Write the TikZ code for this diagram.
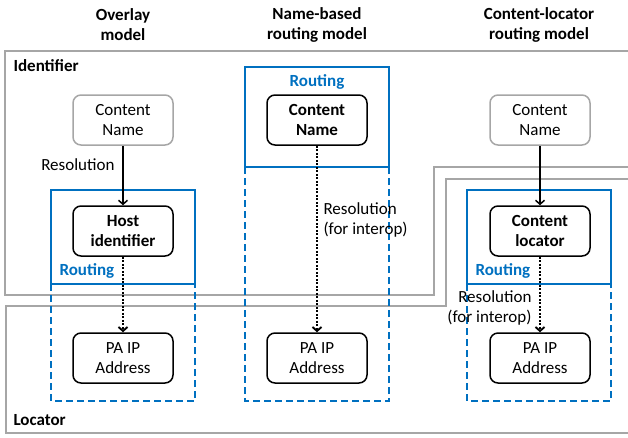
\documentclass[tikz,border=0pt]{standalone}
\usepackage{fontspec}
\setmainfont{Carlito}
\usetikzlibrary{arrows.meta}
\definecolor{msblue}{HTML}{0070C0}
\definecolor{regiongray}{HTML}{A6A6A6}
\begin{document}
\begin{tikzpicture}[x=1pt,y=-1pt,
  every node/.style={font=\fontsize{17}{20}\selectfont},
  tag/.style={font=\fontsize{17}{20}\selectfont\bfseries},
  box/.style={draw, rounded corners=8pt, line width=1.5pt, minimum width=100pt, minimum height=50pt, align=center, inner sep=0pt},
  boldbox/.style={box, font=\fontsize{17}{20}\selectfont\bfseries},
  namebox/.style={box, draw=regiongray},
  region/.style={draw=regiongray, line width=1.8pt},
  routebox/.style={draw=msblue, line width=1.6pt},
  dashbox/.style={draw=msblue, line width=1.6pt, dash pattern=on 7pt off 4pt},
  res/.style={line width=1.5pt, -{Straight Barb[length=4pt,width=9pt]}},
  dotres/.style={res, line width=1.9pt, dash pattern=on 1.9pt off 1.6pt}]
\useasboundingbox (0,0) rectangle (628,437);
% layers
\draw[region] (628,51) -- (5,51) -- (5,295) -- (434,295) -- (434,167) -- (628,167);
\draw[region] (628,179) -- (446,179) -- (446,306) -- (6,306) -- (6,433) -- (628,433);
\node[tag, anchor=west] (idlabel) at (10,66) {Identifier};
\node[tag, anchor=west] (loclabel) at (10,420) {Locator};
% column titles
\node[tag, align=center] (title1) at (123,25) {Overlay\\model};
\node[tag, align=center] (title2) at (317,25) {Name-based\\routing model};
\node[tag, align=center] (title3) at (539,25) {Content-locator\\routing model};
% routing frames
\draw[routebox] (51,190) rectangle (195,284);
\draw[dashbox] (51,284) -- (51,401) -- (195,401) -- (195,284);
\draw[routebox] (245,67) rectangle (389,167);
\draw[dashbox] (245,167) -- (245,401) -- (389,401) -- (389,167);
\draw[routebox] (467,190) rectangle (611,284);
\draw[dashbox] (467,284) -- (467,401) -- (611,401) -- (611,284);
\node[tag, text=msblue, anchor=west] (route1) at (56,271) {Routing};
\node[tag, text=msblue] (route2) at (317,82) {Routing};
\node[tag, text=msblue, anchor=west] (route3) at (472,271) {Routing};
% overlay model
\node[namebox] (name1) at (123,120) {Content\\Name};
\node[boldbox] (hostid) at (123,231) {Host\\identifier};
\node[box] (addr1) at (123,358) {PA IP\\Address};
\draw[res] (name1) -- (hostid);
\draw[dotres] (hostid) -- (addr1);
\node[anchor=east] (res1) at (118,165) {Resolution};
% name-based routing model
\node[boldbox] (name2) at (317,120) {Content\\Name};
\node[box] (addr2) at (317,358) {PA IP\\Address};
\draw[dotres] (name2) -- (addr2);
\node[anchor=west, align=left] (res2) at (320,219.5) {Resolution\\(for interop)};
% content-locator routing model
\node[namebox] (name3) at (540,120) {Content\\Name};
\node[boldbox] (locator) at (540,231) {Content\\locator};
\node[box] (addr3) at (540,358) {PA IP\\Address};
\draw[res] (name3) -- (locator);
\draw[dotres] (locator) -- (addr3);
\node[anchor=east, align=right] (res3) at (535,308) {Resolution\\(for interop)};
\end{tikzpicture}
\end{document}
